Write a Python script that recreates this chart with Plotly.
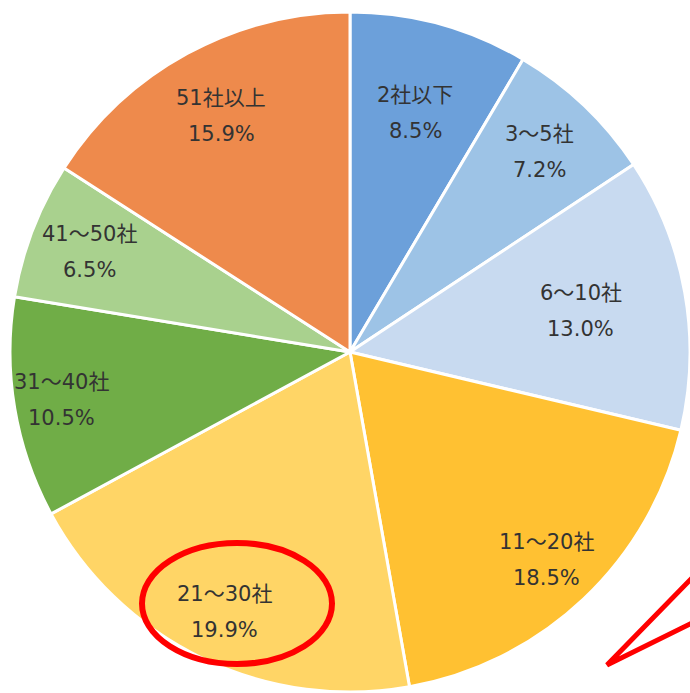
import math
import plotly.graph_objects as go

# ---- data ----
categories = ["2社以下", "3～5社", "6～10社", "11～20社", "21～30社", "31～40社", "41～50社", "51社以上"]
shares = [8.5, 7.2, 13.0, 18.5, 19.9, 10.5, 6.5, 15.9]
pct_labels = ["8.5%", "7.2%", "13.0%", "18.5%", "19.9%", "10.5%", "6.5%", "15.9%"]

# ---- styles ----
colors = ["#6CA0DA", "#9DC3E6", "#C8DAF0", "#FFC132", "#FFD566", "#70AD47", "#A9D18E", "#EE8A4C"]
label_radius = [0.73, 0.81, 0.69, 0.84, 0.85, 0.86, 0.82, 0.79]

W, H = 690, 693
CX, CY, R = 350, 352, 340  # pixel centre/radius of the pie

fig = go.Figure(go.Pie(
    labels=categories,
    values=shares,
    sort=False,
    direction="clockwise",
    rotation=0,
    marker=dict(colors=colors, line=dict(color="white", width=3)),
    textinfo="none",
    hoverinfo="label+percent",
    showlegend=False,
    domain=dict(x=[(CX - R) / W, min(1.0, (CX + R) / W)],
                y=[(H - (CY + R)) / H, (H - (CY - R)) / H]),
))

font = dict(family="DejaVu Sans, Noto Sans CJK JP", size=21, color="#333333")
total = sum(shares)
cum = 0.0
annotations = []
for name, v, pl, fr in zip(categories, shares, pct_labels, label_radius):
    mid = (cum + v / 2) / total * 2 * math.pi
    cum += v
    px = CX + R * fr * math.sin(mid)
    py = CY - R * fr * math.cos(mid)
    for txt, shift in ((name, 18), (pl, -18)):
        annotations.append(dict(
            x=px / W, y=1 - py / H, xref="paper", yref="paper",
            text=txt, showarrow=False, font=font, yshift=shift,
            xanchor="center", yanchor="middle",
        ))

def px2paper(x, y):
    return x / W, 1 - y / H

ex0, ey1 = px2paper(142, 543)
ex1, ey0 = px2paper(332, 664)
tx0, ty0 = px2paper(692, 578)
tx1, ty1 = px2paper(607, 665)
tx2, ty2 = px2paper(692, 623)

shapes = [
    dict(type="circle", xref="paper", yref="paper", x0=ex0, x1=ex1, y0=ey0, y1=ey1,
         line=dict(color="#FF0000", width=6)),
    dict(type="path", xref="paper", yref="paper",
         path=f"M {tx0},{ty0} L {tx1},{ty1} L {tx2},{ty2}",
         line=dict(color="#FF0000", width=5)),
]

fig.update_layout(
    width=W, height=H,
    margin=dict(l=0, r=0, t=0, b=0),
    paper_bgcolor="white", plot_bgcolor="white",
    annotations=annotations, shapes=shapes,
)

fig.write_html("out.html", config={"displayModeBar": False},
               post_script="document.body.style.margin='0';document.body.style.overflow='hidden';")
